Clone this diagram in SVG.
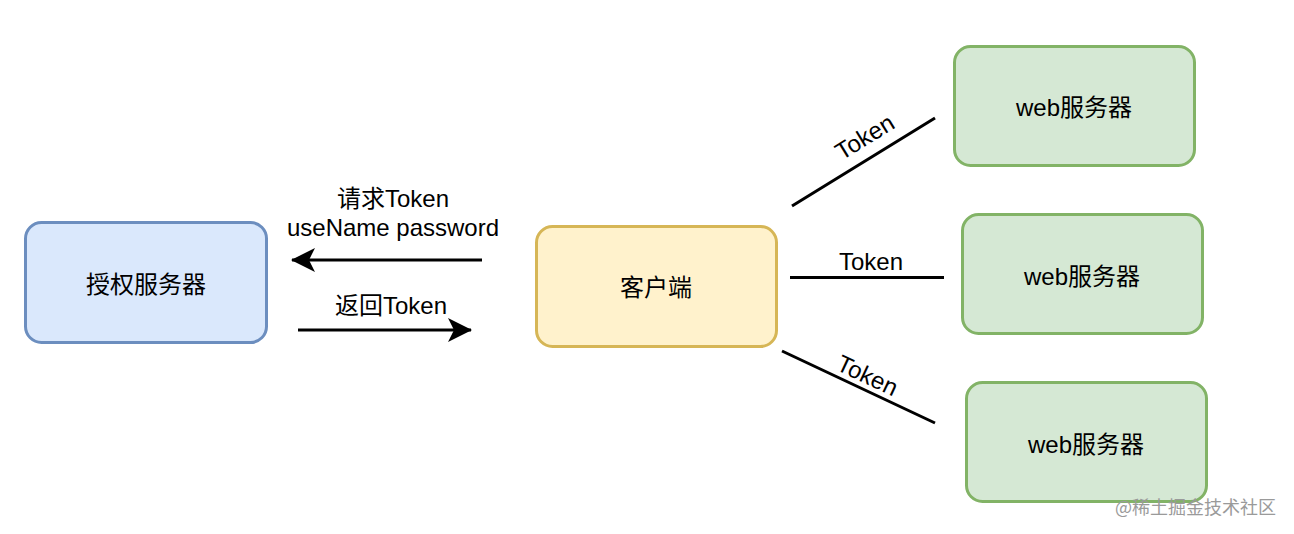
<svg xmlns="http://www.w3.org/2000/svg" width="1294" height="534" viewBox="0 0 1294 534">
<style>
.lbl{font-family:"Liberation Sans","Noto Sans CJK SC",sans-serif;font-size:24px;fill:#000;text-anchor:middle}
.box{stroke-width:3}
.blue{fill:#dae8fc;stroke:#6c8ebf}
.yellow{fill:#fff2cc;stroke:#d6b656}
.green{fill:#d5e8d4;stroke:#82b366}
.edge{stroke:#000;stroke-width:3;fill:none}
.wm{font-family:"Noto Sans CJK SC","Liberation Sans",sans-serif;font-size:18px;fill:#9a9a9a}
</style>
<defs>
<marker id="arr" markerUnits="userSpaceOnUse" markerWidth="26" markerHeight="26" viewBox="0 0 26 26" refX="23" refY="13" orient="auto">
<path d="M0,1 L24,13 L0,25 L6,13 Z" fill="#000"/>
</marker>
</defs>
<rect width="1294" height="534" fill="#fff"/>
<g id="auth">
<rect class="box blue" x="25.5" y="222.5" width="241" height="120" rx="16"/>
<text class="lbl" x="146" y="293">授权服务器</text>
</g>
<g id="client">
<rect class="box yellow" x="536.5" y="226.5" width="240" height="120" rx="16"/>
<text class="lbl" x="656" y="296">客户端</text>
</g>
<g id="web1">
<rect class="box green" x="954.5" y="46.5" width="240" height="119" rx="16"/>
<text class="lbl" x="1074" y="116">web服务器</text>
</g>
<g id="web2">
<rect class="box green" x="962.5" y="214.5" width="240" height="119" rx="16"/>
<text class="lbl" x="1082" y="285">web服务器</text>
</g>
<g id="web3">
<rect class="box green" x="966.5" y="382.5" width="240" height="119" rx="16"/>
<text class="lbl" x="1086" y="453">web服务器</text>
</g>
<g id="connectors">
<line class="edge" x1="482" y1="260" x2="292" y2="260" marker-end="url(#arr)"/>
<line class="edge" x1="298" y1="330" x2="471" y2="330" marker-end="url(#arr)"/>
<line class="edge" x1="792" y1="206" x2="935" y2="118"/>
<line class="edge" x1="790" y1="277.5" x2="944" y2="277.5"/>
<line class="edge" x1="782" y1="351" x2="935" y2="423"/>
<text class="lbl" x="393" y="207">请求Token</text>
<text class="lbl" x="393" y="236">useName password</text>
<text class="lbl" x="391" y="314">返回Token</text>
<text class="lbl" x="871" y="270">Token</text>
<text class="lbl" transform="translate(869,144) rotate(-31.6)">Token</text>
<text class="lbl" transform="translate(864,383) rotate(25.2)">Token</text>
</g>
<text class="wm" x="1115" y="514">@稀土掘金技术社区</text>
</svg>
